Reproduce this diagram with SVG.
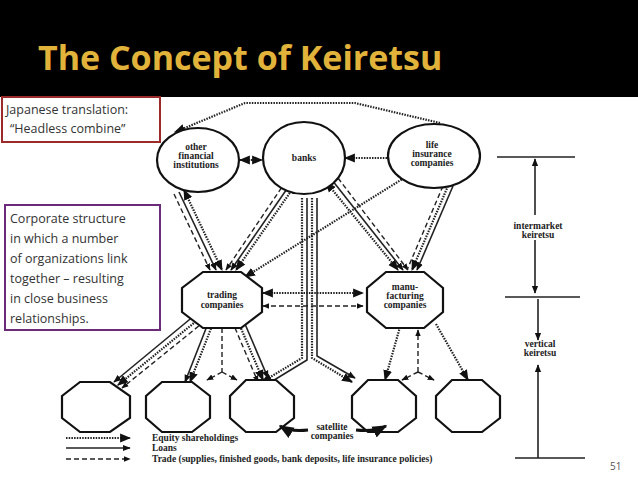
<svg xmlns="http://www.w3.org/2000/svg" width="638" height="479" viewBox="0 0 638 479">
<defs>
<marker id="ah" viewBox="0 0 10 10" refX="9" refY="5" markerWidth="5" markerHeight="5" orient="auto-start-reverse"><path d="M0,1 L10,5 L0,9 z" fill="#111"/></marker>
<style>
.t{font-family:"Liberation Serif",serif;font-weight:bold;font-size:9.5px;fill:#222;text-anchor:middle}
.n{fill:#fff;stroke:#111;stroke-width:2.2}
.eq{stroke:#222;stroke-width:2.2;stroke-dasharray:1.5 1.2;fill:none}
.lo{stroke:#222;stroke-width:1.6;fill:none}
.tr{stroke:#222;stroke-width:1.4;stroke-dasharray:5 3;fill:none}
.side{font-family:"Open Sans","Liberation Sans",sans-serif;font-size:12.5px;fill:#333}
</style>
</defs>
<rect width="638" height="479" fill="#fff"/>
<rect width="638" height="97" fill="#000"/>
<text x="38" y="70" font-family="'Open Sans','Liberation Sans',sans-serif" font-weight="bold" font-size="34" fill="#e2b33a">The Concept of Keiretsu</text>
<g id="connectors">
<path class="eq" d="M440,123 L355,103 L245,103 L175,132" marker-end="url(#ah)"/>
<line class="eq" x1="240" y1="160" x2="262" y2="160" marker-start="url(#ah)" marker-end="url(#ah)"/>
<line class="eq" x1="345" y1="158" x2="389" y2="158" marker-start="url(#ah)"/>
<line class="eq" x1="404" y1="178" x2="245" y2="277" marker-end="url(#ah)"/>
<line class="eq" x1="184" y1="190" x2="222" y2="270" marker-start="url(#ah)" marker-end="url(#ah)"/>
<line class="lo" x1="179" y1="192" x2="216" y2="270" marker-end="url(#ah)"/>
<line class="tr" x1="174" y1="194" x2="210" y2="270" marker-end="url(#ah)"/>
<line class="eq" x1="296" y1="184" x2="236" y2="270" marker-start="url(#ah)" marker-end="url(#ah)"/>
<line class="lo" x1="291" y1="183" x2="231" y2="270" marker-end="url(#ah)"/>
<line class="tr" x1="286" y1="181" x2="226" y2="270" marker-end="url(#ah)"/>
<line class="eq" x1="326" y1="182" x2="398" y2="270" marker-start="url(#ah)" marker-end="url(#ah)"/>
<line class="lo" x1="332" y1="180" x2="403" y2="270" marker-end="url(#ah)"/>
<line class="tr" x1="338" y1="178" x2="408" y2="270" marker-end="url(#ah)"/>
<line class="eq" x1="448" y1="186" x2="412" y2="270" marker-end="url(#ah)"/>
<line class="lo" x1="453" y1="186" x2="417" y2="270" marker-end="url(#ah)"/>
<line class="tr" x1="443" y1="186" x2="407" y2="270"/>
<path class="eq" d="M302,198 L302,358 L262,382" marker-end="url(#ah)"/>
<path class="lo" d="M307,198 L307,360 L266,385" marker-end="url(#ah)"/>
<path class="eq" d="M312,198 L312,358 L352,382" marker-end="url(#ah)"/>
<path class="lo" d="M317,198 L317,356 L355,378" marker-end="url(#ah)"/>
<line class="eq" x1="263" y1="293" x2="363" y2="293" marker-start="url(#ah)" marker-end="url(#ah)"/>
<line class="tr" x1="263" y1="306" x2="363" y2="306" marker-start="url(#ah)" marker-end="url(#ah)"/>
<line class="eq" x1="200" y1="318" x2="118" y2="385" marker-end="url(#ah)"/>
<line class="lo" x1="195" y1="315" x2="114" y2="382" marker-end="url(#ah)"/>
<line class="tr" x1="205" y1="321" x2="122" y2="388" marker-end="url(#ah)"/>
<line class="eq" x1="212" y1="326" x2="190" y2="382" marker-end="url(#ah)"/>
<line class="lo" x1="207" y1="326" x2="185" y2="382" marker-end="url(#ah)"/>
<path class="tr" d="M222,328 L222,372"/>
<line class="tr" x1="222" y1="372" x2="207" y2="380" marker-end="url(#ah)"/>
<line class="tr" x1="222" y1="372" x2="237" y2="380" marker-end="url(#ah)"/>
<line class="eq" x1="240" y1="326" x2="263" y2="380" marker-end="url(#ah)"/>
<line class="lo" x1="245" y1="324" x2="268" y2="378" marker-end="url(#ah)"/>
<line class="tr" x1="235" y1="328" x2="258" y2="382" marker-end="url(#ah)"/>
<line class="eq" x1="400" y1="327" x2="385" y2="380" marker-end="url(#ah)"/>
<line class="eq" x1="436" y1="324" x2="468" y2="380" marker-end="url(#ah)"/>
<path class="tr" d="M418,372 L418,330" marker-end="url(#ah)"/>
<line class="tr" x1="418" y1="372" x2="402" y2="380" marker-end="url(#ah)"/>
<line class="tr" x1="418" y1="372" x2="434" y2="380" marker-end="url(#ah)"/>
<line class="lo" x1="497" y1="157" x2="575" y2="157"/>
<line class="lo" x1="505" y1="297" x2="580" y2="297"/>
<line class="lo" x1="515" y1="458" x2="585" y2="458"/>
<line class="lo" x1="535" y1="215" x2="535" y2="159" marker-end="url(#ah)"/>
<line class="lo" x1="535" y1="240" x2="535" y2="293" marker-end="url(#ah)"/>
<line class="lo" x1="538" y1="299" x2="538" y2="340" marker-end="url(#ah)"/>
<line class="lo" x1="538" y1="458" x2="538" y2="365" marker-end="url(#ah)"/>
<line class="eq" x1="66" y1="438" x2="130" y2="438" marker-end="url(#ah)"/>
<line class="lo" x1="66" y1="448" x2="130" y2="448" marker-end="url(#ah)"/>
<line class="tr" x1="66" y1="459" x2="130" y2="459" marker-end="url(#ah)"/>
</g>
<g id="other"><ellipse class="n" cx="198" cy="160" rx="41" ry="32"/><text class="t" y="150"><tspan x="196">other</tspan><tspan x="196" dy="9">financial</tspan><tspan x="196" dy="9">institutions</tspan></text></g>
<g id="banks"><ellipse class="n" cx="304" cy="158" rx="41" ry="36"/><text class="t" x="304" y="161">banks</text></g>
<g id="life"><ellipse class="n" cx="434" cy="156" rx="46" ry="32"/><text class="t" y="148"><tspan x="432">life</tspan><tspan x="432" dy="9">insurance</tspan><tspan x="432" dy="9">companies</tspan></text></g>
<g id="trading"><polygon class="n" points="203,272 241,272 262,288 262,312 241,328 203,328 182,312 182,288"/><text class="t" y="298"><tspan x="222">trading</tspan><tspan x="222" dy="10">companies</tspan></text></g>
<g id="manu"><polygon class="n" points="386,272 424,272 443,288 443,312 424,328 386,328 367,312 367,288"/><text class="t" y="290"><tspan x="405">manu-</tspan><tspan x="405" dy="9">facturing</tspan><tspan x="405" dy="9">companies</tspan></text></g>
<g id="s1"><polygon class="n" points="80,382 110,382 130,396 130,418 110,432 80,432 62,418 62,396"/></g>
<g id="s2"><polygon class="n" points="162,382 192,382 210,396 210,418 192,432 162,432 146,418 146,396"/></g>
<g id="s3"><polygon class="n" points="246,380 276,380 294,396 294,418 276,432 246,432 230,418 230,396"/></g>
<g id="s4"><polygon class="n" points="368,380 398,380 416,396 416,418 398,432 368,432 352,418 352,396"/></g>
<g id="s5"><polygon class="n" points="452,380 482,380 500,396 500,418 482,432 452,432 436,418 436,396"/></g>
<g id="satellite-arrows">
<path stroke="#111" stroke-width="3" fill="none" d="M308,430 Q290,432 280,426" marker-end="url(#ah)"/>
<path stroke="#111" stroke-width="3" fill="none" d="M356,430 Q374,432 386,426" marker-end="url(#ah)"/>
</g>
<g id="labels">
<text class="t" y="430"><tspan x="332">satellite</tspan><tspan x="332" dy="9">companies</tspan></text>
<text class="t" y="229"><tspan x="538">intermarket</tspan><tspan x="538" dy="9">keiretsu</tspan></text>
<text class="t" y="347"><tspan x="540">vertical</tspan><tspan x="540" dy="9">keiretsu</tspan></text>
<text class="t" style="text-anchor:start" x="152" y="441">Equity shareholdings</text>
<text class="t" style="text-anchor:start" x="152" y="451">Loans</text>
<text class="t" style="text-anchor:start" x="152" y="462">Trade (supplies, finished goods, bank deposits, life insurance policies)</text>
<text x="610" y="470" font-family="'Open Sans',sans-serif" font-size="10" fill="#555">51</text>
</g>
<g id="note1"><rect x="2" y="97" width="158" height="45" fill="#fff" stroke="#9b2a2a" stroke-width="2"/><text class="side" x="6" y="114">Japanese translation:</text><text class="side" x="10" y="133">“Headless combine”</text></g>
<g id="note2"><rect x="5" y="205" width="155" height="125" fill="#fff" stroke="#6b2a7a" stroke-width="2"/><text class="side"><tspan x="10" y="223">Corporate structure</tspan><tspan x="10" y="243">in which a number</tspan><tspan x="10" y="263">of organizations link</tspan><tspan x="10" y="283">together – resulting</tspan><tspan x="10" y="303">in close business</tspan><tspan x="10" y="323">relationships.</tspan></text></g>
</svg>
